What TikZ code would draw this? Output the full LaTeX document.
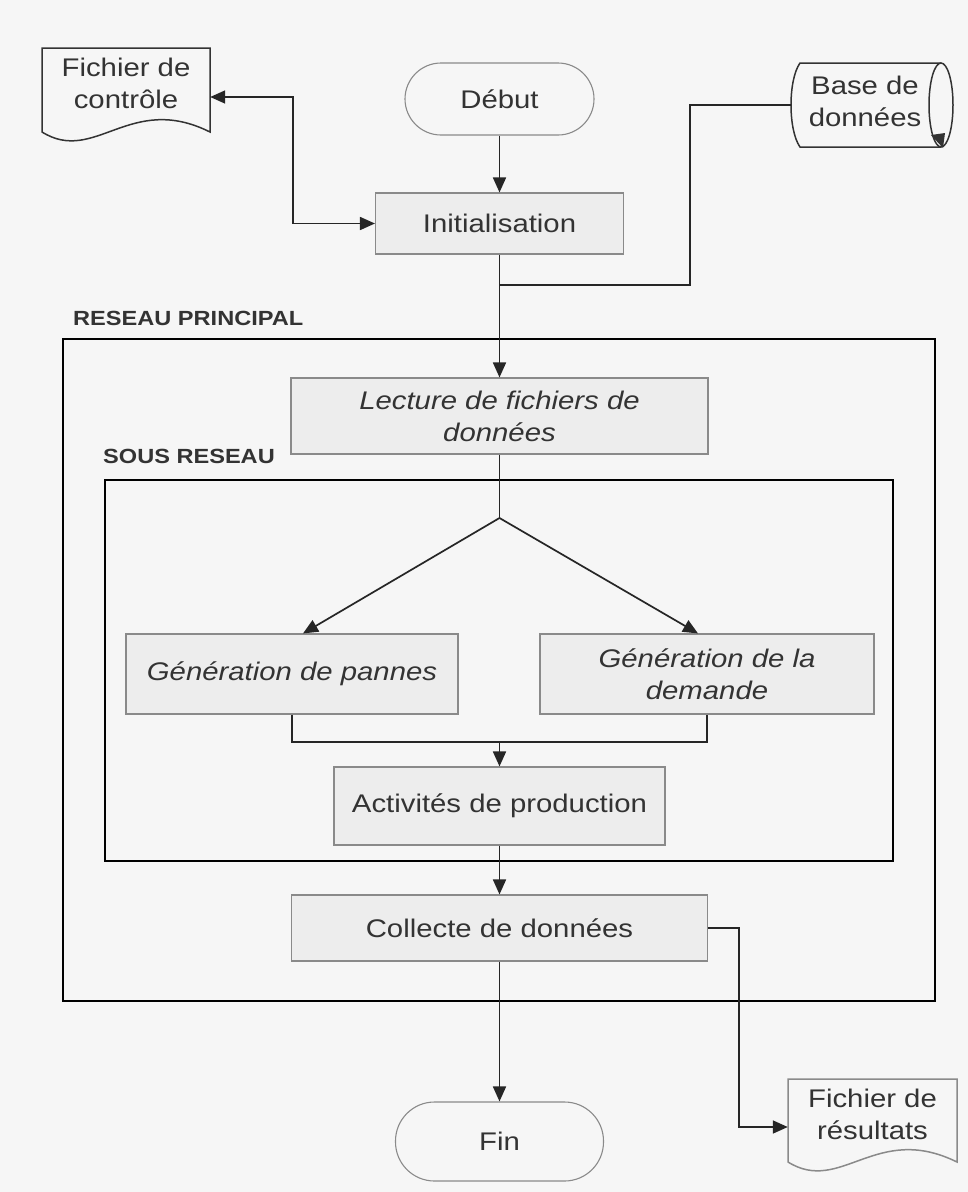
\documentclass[tikz,border=0pt]{standalone}
\usepackage{fontspec}
\setmainfont{Liberation Sans}[FakeStretch=1.15]
\usetikzlibrary{arrows.meta}
\definecolor{bg}{HTML}{F6F6F6}
\definecolor{boxfill}{HTML}{EDEDED}
\definecolor{boxline}{HTML}{8A8A8A}
\definecolor{ink}{HTML}{333333}
\definecolor{wirec}{HTML}{262626}
\begin{document}
\begin{tikzpicture}[x=1pt,y=-1pt,
  every node/.style={text=ink, font=\fontsize{25.5}{32}\selectfont, align=center, inner sep=0pt},
  itx/.style={font=\fontsize{25.5}{32}\selectfont\itshape},
  proc/.style={draw=boxline, fill=boxfill, line width=1.1pt},
  term/.style={draw=boxline, fill=bg, line width=1.1pt},
  lbl/.style={font=\fontsize{20.5}{24}\selectfont\bfseries, anchor=base west},
  frame/.style={draw=black, line width=2.2pt},
  wire/.style={draw=wirec, line width=1.7pt},
  arr/.style={wire, -{Triangle[length=15pt,width=13pt]}},
  darr/.style={wire, {Triangle[length=15pt,width=13pt]}-{Triangle[length=15pt,width=13pt]}},
  shpline/.style={draw=ink, line width=1.5pt}
]
\fill[bg] (0,0) rectangle (968,1192);
\useasboundingbox (0,0) rectangle (968,1192);

% frames
\draw[frame] (63,339) rectangle (935,1001);
\node[lbl] (rp) at (73,325) {RESEAU PRINCIPAL};
\draw[frame] (105,480) rectangle (893,861);
\node[lbl] (sr) at (103,463) {SOUS RESEAU};

% document: Fichier de controle
\fill[bg] (42,48) -- (210,48) -- (210,132) .. controls (130,92) and (95,165) .. (42,132) -- cycle;
\draw[shpline] (42,48) -- (210,48) -- (210,132) .. controls (130,92) and (95,165) .. (42,132) -- cycle;
\node[minimum width=168pt] (ctrl) at (126,83) {Fichier de\\contrôle};

% database: Base de donnees
\fill[bg] (800,63) -- (941,63) -- (941,147) -- (800,147) .. controls (788,130) and (788,80) .. (800,63) -- cycle;
\draw[shpline] (941,63) -- (800,63) .. controls (788,80) and (788,130) .. (800,147) -- (941,147);
\draw[shpline] (941,105) ellipse [x radius=12pt, y radius=42pt];
\fill[ink] (931,135) -- (945,133) -- (943,148) -- cycle;
\node[minimum width=148pt] (base) at (865,101) {Base de\\données};

% document: Fichier de resultats
\fill[bg] (788,1079) -- (957,1079) -- (957,1162) .. controls (876,1122) and (841,1195) .. (788,1162) -- cycle;
\draw[shpline, draw=boxline] (788,1079) -- (957,1079) -- (957,1162) .. controls (876,1122) and (841,1195) .. (788,1162) -- cycle;
\node[minimum width=169pt] (res) at (872.5,1114) {Fichier de\\résultats};

% main nodes
\node[term, minimum width=189pt, minimum height=72pt, rounded corners=36pt] (debut) at (499.5,99) {Début};
\node[proc, minimum width=248pt, minimum height=61pt] (init) at (499.5,223.5) {Initialisation};
\node[proc, itx, minimum width=417pt, minimum height=76pt] (lect) at (499.5,416) {Lecture de fichiers de\\données};
\coordinate (fork) at (499.5,518);
\node[proc, itx, minimum width=332pt, minimum height=80pt] (pannes) at (292,674) {Génération de pannes};
\node[proc, itx, minimum width=334pt, minimum height=80pt] (demande) at (707,674) {Génération de la\\demande};
\coordinate (join) at (499.5,742);
\node[proc, minimum width=331pt, minimum height=78pt] (activ) at (499.5,806) {Activités de production};
\node[proc, minimum width=416pt, minimum height=66pt] (coll) at (499.5,928) {Collecte de données};
\node[term, minimum width=208pt, minimum height=79pt, rounded corners=39pt] (fin) at (499.5,1141.5) {Fin};

% connectors
\draw[arr] (debut) -- (init);
\draw[darr] (init.west) -- ++(-82,0) |- ([yshift=-14pt]ctrl.east);
\draw[wire] ([yshift=-4pt]base.west) -- ++(-101,0) |- (init.south |- 0,285);
\draw[arr] (init) -- (lect);
\draw[wire] (lect) -- (fork);
\draw[arr] (fork) -- ([xshift=11pt]pannes.north);
\draw[arr] (fork) -- ([xshift=-9pt]demande.north);
\draw[wire] (pannes.south) |- (join) -| (demande.south);
\draw[arr] (join) -- (activ);
\draw[arr] (activ) -- (coll);
\draw[arr] (coll) -- (fin);
\draw[arr] (coll.east) -- ++(31,0) |- ([yshift=-13pt]res.west);
\end{tikzpicture}
\end{document}
